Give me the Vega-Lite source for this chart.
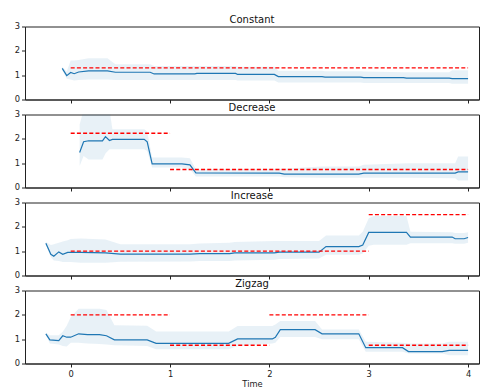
{
  "$schema": "https://vega.github.io/schema/vega-lite/v6.json",
  "padding": {"left": 13, "top": 14.5, "right": 0, "bottom": 0},
  "background": "white",
  "config": {
    "view": {"stroke": "#222", "strokeWidth": 1},
    "axis": {"grid": false, "domainColor": "#222", "tickColor": "#222", "labelColor": "#222", "titleColor": "#222", "tickSize": 3.5, "labelFont": "DejaVu Sans", "titleFont": "DejaVu Sans", "labelFontSize": 8.3, "titleFontSize": 8.3, "titleFontWeight": "normal", "labelPadding": 2, "titlePadding": 2, "labelFlush": false, "labelOverlap": false, "format": "d"},
    "title": {"font": "DejaVu Sans", "fontSize": 10, "fontWeight": "normal", "color": "#111", "offset": -3.5, "anchor": "middle"}
  },
  "datasets": {
    "series": [
      {"panel": "Constant", "t": -0.085, "v": 1.28, "lo": 1.2, "hi": 1.35},
      {"panel": "Constant", "t": -0.04, "v": 0.98, "lo": 0.85, "hi": 1.15},
      {"panel": "Constant", "t": 0.0, "v": 1.11, "lo": 0.82, "hi": 1.6},
      {"panel": "Constant", "t": 0.035, "v": 1.06, "lo": 0.78, "hi": 1.6},
      {"panel": "Constant", "t": 0.08, "v": 1.13, "lo": 0.8, "hi": 1.62},
      {"panel": "Constant", "t": 0.18, "v": 1.18, "lo": 0.82, "hi": 1.7},
      {"panel": "Constant", "t": 0.37, "v": 1.18, "lo": 0.82, "hi": 1.7},
      {"panel": "Constant", "t": 0.45, "v": 1.12, "lo": 0.8, "hi": 1.45},
      {"panel": "Constant", "t": 0.8, "v": 1.12, "lo": 0.8, "hi": 1.45},
      {"panel": "Constant", "t": 0.84, "v": 1.05, "lo": 0.8, "hi": 1.38},
      {"panel": "Constant", "t": 1.25, "v": 1.05, "lo": 0.8, "hi": 1.38},
      {"panel": "Constant", "t": 1.27, "v": 1.07, "lo": 0.8, "hi": 1.38},
      {"panel": "Constant", "t": 1.66, "v": 1.07, "lo": 0.8, "hi": 1.38},
      {"panel": "Constant", "t": 1.68, "v": 1.03, "lo": 0.78, "hi": 1.35},
      {"panel": "Constant", "t": 2.05, "v": 1.03, "lo": 0.78, "hi": 1.35},
      {"panel": "Constant", "t": 2.09, "v": 0.94, "lo": 0.7, "hi": 1.18},
      {"panel": "Constant", "t": 2.53, "v": 0.94, "lo": 0.7, "hi": 1.18},
      {"panel": "Constant", "t": 2.56, "v": 0.92, "lo": 0.7, "hi": 1.16},
      {"panel": "Constant", "t": 2.92, "v": 0.92, "lo": 0.7, "hi": 1.16},
      {"panel": "Constant", "t": 2.95, "v": 0.9, "lo": 0.68, "hi": 1.15},
      {"panel": "Constant", "t": 3.35, "v": 0.9, "lo": 0.68, "hi": 1.12},
      {"panel": "Constant", "t": 3.38, "v": 0.88, "lo": 0.68, "hi": 1.12},
      {"panel": "Constant", "t": 3.81, "v": 0.88, "lo": 0.68, "hi": 1.12},
      {"panel": "Constant", "t": 3.84, "v": 0.86, "lo": 0.65, "hi": 1.2},
      {"panel": "Constant", "t": 4.0, "v": 0.86, "lo": 0.65, "hi": 1.2},

      {"panel": "Decrease", "t": 0.09, "v": 1.44, "lo": 0.88, "hi": 2.59},
      {"panel": "Decrease", "t": 0.13, "v": 1.88, "lo": 1.29, "hi": 3.2},
      {"panel": "Decrease", "t": 0.18, "v": 1.92, "lo": 1.15, "hi": 3.2},
      {"panel": "Decrease", "t": 0.32, "v": 1.92, "lo": 1.15, "hi": 3.2},
      {"panel": "Decrease", "t": 0.35, "v": 2.09, "lo": 1.4, "hi": 3.2},
      {"panel": "Decrease", "t": 0.39, "v": 1.93, "lo": 1.57, "hi": 3.2},
      {"panel": "Decrease", "t": 0.42, "v": 1.98, "lo": 1.57, "hi": 2.39},
      {"panel": "Decrease", "t": 0.74, "v": 1.98, "lo": 1.57, "hi": 2.39},
      {"panel": "Decrease", "t": 0.77, "v": 1.88, "lo": 1.5, "hi": 2.3},
      {"panel": "Decrease", "t": 0.82, "v": 0.97, "lo": 0.82, "hi": 1.23},
      {"panel": "Decrease", "t": 1.12, "v": 0.97, "lo": 0.82, "hi": 1.23},
      {"panel": "Decrease", "t": 1.2, "v": 0.93, "lo": 0.75, "hi": 1.2},
      {"panel": "Decrease", "t": 1.26, "v": 0.6, "lo": 0.45, "hi": 0.75},
      {"panel": "Decrease", "t": 2.1, "v": 0.59, "lo": 0.45, "hi": 0.77},
      {"panel": "Decrease", "t": 2.15, "v": 0.55, "lo": 0.42, "hi": 0.77},
      {"panel": "Decrease", "t": 2.52, "v": 0.55, "lo": 0.4, "hi": 0.86},
      {"panel": "Decrease", "t": 2.9, "v": 0.55, "lo": 0.4, "hi": 0.86},
      {"panel": "Decrease", "t": 2.95, "v": 0.59, "lo": 0.4, "hi": 0.93},
      {"panel": "Decrease", "t": 3.4, "v": 0.59, "lo": 0.4, "hi": 1.0},
      {"panel": "Decrease", "t": 3.87, "v": 0.59, "lo": 0.38, "hi": 1.0},
      {"panel": "Decrease", "t": 3.9, "v": 0.64, "lo": 0.29, "hi": 1.27},
      {"panel": "Decrease", "t": 4.0, "v": 0.64, "lo": 0.29, "hi": 1.27},

      {"panel": "Increase", "t": -0.25, "v": 1.33, "lo": 1.28, "hi": 1.38},
      {"panel": "Increase", "t": -0.2, "v": 0.87, "lo": 0.75, "hi": 1.25},
      {"panel": "Increase", "t": -0.17, "v": 0.79, "lo": 0.62, "hi": 1.28},
      {"panel": "Increase", "t": -0.12, "v": 0.97, "lo": 0.6, "hi": 1.35},
      {"panel": "Increase", "t": -0.08, "v": 0.87, "lo": 0.55, "hi": 1.4},
      {"panel": "Increase", "t": -0.03, "v": 0.95, "lo": 0.55, "hi": 1.45},
      {"panel": "Increase", "t": 0.0, "v": 0.95, "lo": 0.55, "hi": 1.5},
      {"panel": "Increase", "t": 0.1, "v": 0.95, "lo": 0.52, "hi": 1.52},
      {"panel": "Increase", "t": 0.35, "v": 0.93, "lo": 0.52, "hi": 1.48},
      {"panel": "Increase", "t": 0.5, "v": 0.88, "lo": 0.56, "hi": 1.28},
      {"panel": "Increase", "t": 1.2, "v": 0.88, "lo": 0.58, "hi": 1.28},
      {"panel": "Increase", "t": 1.3, "v": 0.9, "lo": 0.6, "hi": 1.32},
      {"panel": "Increase", "t": 1.6, "v": 0.9, "lo": 0.6, "hi": 1.35},
      {"panel": "Increase", "t": 1.65, "v": 0.93, "lo": 0.62, "hi": 1.38},
      {"panel": "Increase", "t": 2.05, "v": 0.93, "lo": 0.65, "hi": 1.42},
      {"panel": "Increase", "t": 2.1, "v": 0.96, "lo": 0.68, "hi": 1.42},
      {"panel": "Increase", "t": 2.5, "v": 0.96, "lo": 0.7, "hi": 1.42},
      {"panel": "Increase", "t": 2.57, "v": 1.19, "lo": 0.85, "hi": 1.64},
      {"panel": "Increase", "t": 2.9, "v": 1.19, "lo": 0.85, "hi": 1.64},
      {"panel": "Increase", "t": 2.94, "v": 1.25, "lo": 0.9, "hi": 1.8},
      {"panel": "Increase", "t": 3.0, "v": 1.77, "lo": 1.22, "hi": 2.35},
      {"panel": "Increase", "t": 3.05, "v": 1.77, "lo": 1.26, "hi": 2.45},
      {"panel": "Increase", "t": 3.38, "v": 1.77, "lo": 1.26, "hi": 2.45},
      {"panel": "Increase", "t": 3.42, "v": 1.58, "lo": 1.33, "hi": 1.8},
      {"panel": "Increase", "t": 3.84, "v": 1.58, "lo": 1.33, "hi": 1.78},
      {"panel": "Increase", "t": 3.87, "v": 1.51, "lo": 1.3, "hi": 1.75},
      {"panel": "Increase", "t": 3.96, "v": 1.51, "lo": 1.3, "hi": 1.75},
      {"panel": "Increase", "t": 4.0, "v": 1.56, "lo": 1.35, "hi": 1.78},

      {"panel": "Zigzag", "t": -0.25, "v": 1.22, "lo": 1.18, "hi": 1.26},
      {"panel": "Zigzag", "t": -0.21, "v": 0.97, "lo": 0.82, "hi": 1.16},
      {"panel": "Zigzag", "t": -0.12, "v": 0.94, "lo": 0.78, "hi": 1.16},
      {"panel": "Zigzag", "t": -0.08, "v": 1.14, "lo": 0.72, "hi": 1.3},
      {"panel": "Zigzag", "t": -0.04, "v": 1.08, "lo": 0.7, "hi": 1.55},
      {"panel": "Zigzag", "t": 0.0, "v": 1.08, "lo": 0.85, "hi": 1.9},
      {"panel": "Zigzag", "t": 0.08, "v": 1.22, "lo": 0.85, "hi": 2.25},
      {"panel": "Zigzag", "t": 0.17, "v": 1.19, "lo": 0.82, "hi": 2.25},
      {"panel": "Zigzag", "t": 0.29, "v": 1.19, "lo": 0.8, "hi": 2.25},
      {"panel": "Zigzag", "t": 0.36, "v": 1.14, "lo": 0.78, "hi": 2.2},
      {"panel": "Zigzag", "t": 0.44, "v": 0.97, "lo": 0.75, "hi": 1.57},
      {"panel": "Zigzag", "t": 0.77, "v": 0.97, "lo": 0.72, "hi": 1.55},
      {"panel": "Zigzag", "t": 0.86, "v": 0.83, "lo": 0.59, "hi": 1.32},
      {"panel": "Zigzag", "t": 1.59, "v": 0.83, "lo": 0.59, "hi": 1.32},
      {"panel": "Zigzag", "t": 1.68, "v": 1.01, "lo": 0.72, "hi": 1.54},
      {"panel": "Zigzag", "t": 2.03, "v": 1.01, "lo": 0.82, "hi": 1.54},
      {"panel": "Zigzag", "t": 2.06, "v": 1.08, "lo": 0.85, "hi": 1.6},
      {"panel": "Zigzag", "t": 2.11, "v": 1.39, "lo": 1.09, "hi": 1.75},
      {"panel": "Zigzag", "t": 2.46, "v": 1.39, "lo": 1.09, "hi": 1.75},
      {"panel": "Zigzag", "t": 2.53, "v": 1.22, "lo": 1.0, "hi": 1.4},
      {"panel": "Zigzag", "t": 2.9, "v": 1.22, "lo": 1.0, "hi": 1.4},
      {"panel": "Zigzag", "t": 2.97, "v": 0.65, "lo": 0.48, "hi": 0.89},
      {"panel": "Zigzag", "t": 3.34, "v": 0.65, "lo": 0.48, "hi": 0.85},
      {"panel": "Zigzag", "t": 3.4, "v": 0.49, "lo": 0.41, "hi": 0.82},
      {"panel": "Zigzag", "t": 3.74, "v": 0.49, "lo": 0.41, "hi": 0.82},
      {"panel": "Zigzag", "t": 3.81, "v": 0.54, "lo": 0.34, "hi": 0.89},
      {"panel": "Zigzag", "t": 4.0, "v": 0.54, "lo": 0.34, "hi": 0.89}
    ],
    "truth": [
      {"panel": "Constant", "seg": "a", "t": 0, "v": 1.3},
      {"panel": "Constant", "seg": "a", "t": 4, "v": 1.3},
      {"panel": "Decrease", "seg": "a", "t": 0, "v": 2.23},
      {"panel": "Decrease", "seg": "a", "t": 1, "v": 2.23},
      {"panel": "Decrease", "seg": "b", "t": 1, "v": 0.74},
      {"panel": "Decrease", "seg": "b", "t": 4, "v": 0.74},
      {"panel": "Increase", "seg": "a", "t": 0, "v": 1.0},
      {"panel": "Increase", "seg": "a", "t": 3, "v": 1.0},
      {"panel": "Increase", "seg": "b", "t": 3, "v": 2.5},
      {"panel": "Increase", "seg": "b", "t": 4, "v": 2.5},
      {"panel": "Zigzag", "seg": "a", "t": 0, "v": 2.0},
      {"panel": "Zigzag", "seg": "a", "t": 1, "v": 2.0},
      {"panel": "Zigzag", "seg": "b", "t": 1, "v": 0.75},
      {"panel": "Zigzag", "seg": "b", "t": 2, "v": 0.75},
      {"panel": "Zigzag", "seg": "c", "t": 2, "v": 2.0},
      {"panel": "Zigzag", "seg": "c", "t": 3, "v": 2.0},
      {"panel": "Zigzag", "seg": "d", "t": 3, "v": 0.75},
      {"panel": "Zigzag", "seg": "d", "t": 4, "v": 0.75}
    ]
  },
  "spacing": 15,
  "bounds": "flush",
  "vconcat": [
    {
      "title": "Constant",
      "width": 454, "height": 73,
      "layer": [
        {"data": {"name": "series"}, "transform": [{"filter": "datum.panel === 'Constant'"}],
         "mark": {"type": "area", "color": "#1f77b4", "opacity": 0.1, "clip": true},
         "encoding": {
           "x": {"field": "t", "type": "quantitative", "scale": {"domain": [-0.46, 4.11], "nice": false, "zero": false}, "axis": {"values": [0, 1, 2, 3, 4], "labels": false, "title": null}},
           "y": {"field": "lo", "type": "quantitative", "scale": {"domain": [0, 3], "nice": false}, "axis": {"values": [0, 1, 2, 3], "title": null, "labelOverlap": false, "tickCount": 4}},
           "y2": {"field": "hi"}}},
        {"data": {"name": "series"}, "transform": [{"filter": "datum.panel === 'Constant'"}],
         "mark": {"type": "line", "color": "#1f77b4", "strokeWidth": 1.2, "clip": true},
         "encoding": {"x": {"field": "t", "type": "quantitative"}, "y": {"field": "v", "type": "quantitative"}}},
        {"data": {"name": "truth"}, "transform": [{"filter": "datum.panel === 'Constant'"}],
         "mark": {"type": "line", "color": "#ff0000", "strokeWidth": 1.3, "strokeDash": [4, 2.2], "clip": true},
         "encoding": {"x": {"field": "t", "type": "quantitative"}, "y": {"field": "v", "type": "quantitative"}, "detail": {"field": "seg"}}}
      ]
    },
    {
      "title": "Decrease",
      "width": 454, "height": 73,
      "layer": [
        {"data": {"name": "series"}, "transform": [{"filter": "datum.panel === 'Decrease'"}],
         "mark": {"type": "area", "color": "#1f77b4", "opacity": 0.1, "clip": true},
         "encoding": {
           "x": {"field": "t", "type": "quantitative", "scale": {"domain": [-0.46, 4.11], "nice": false, "zero": false}, "axis": {"values": [0, 1, 2, 3, 4], "labels": false, "title": null}},
           "y": {"field": "lo", "type": "quantitative", "scale": {"domain": [0, 3], "nice": false}, "axis": {"values": [0, 1, 2, 3], "title": null, "labelOverlap": false, "tickCount": 4}},
           "y2": {"field": "hi"}}},
        {"data": {"name": "series"}, "transform": [{"filter": "datum.panel === 'Decrease'"}],
         "mark": {"type": "line", "color": "#1f77b4", "strokeWidth": 1.2, "clip": true},
         "encoding": {"x": {"field": "t", "type": "quantitative"}, "y": {"field": "v", "type": "quantitative"}}},
        {"data": {"name": "truth"}, "transform": [{"filter": "datum.panel === 'Decrease'"}],
         "mark": {"type": "line", "color": "#ff0000", "strokeWidth": 1.3, "strokeDash": [4, 2.2], "clip": true},
         "encoding": {"x": {"field": "t", "type": "quantitative"}, "y": {"field": "v", "type": "quantitative"}, "detail": {"field": "seg"}}}
      ]
    },
    {
      "title": "Increase",
      "width": 454, "height": 73,
      "layer": [
        {"data": {"name": "series"}, "transform": [{"filter": "datum.panel === 'Increase'"}],
         "mark": {"type": "area", "color": "#1f77b4", "opacity": 0.1, "clip": true},
         "encoding": {
           "x": {"field": "t", "type": "quantitative", "scale": {"domain": [-0.46, 4.11], "nice": false, "zero": false}, "axis": {"values": [0, 1, 2, 3, 4], "labels": false, "title": null}},
           "y": {"field": "lo", "type": "quantitative", "scale": {"domain": [0, 3], "nice": false}, "axis": {"values": [0, 1, 2, 3], "title": null, "labelOverlap": false, "tickCount": 4}},
           "y2": {"field": "hi"}}},
        {"data": {"name": "series"}, "transform": [{"filter": "datum.panel === 'Increase'"}],
         "mark": {"type": "line", "color": "#1f77b4", "strokeWidth": 1.2, "clip": true},
         "encoding": {"x": {"field": "t", "type": "quantitative"}, "y": {"field": "v", "type": "quantitative"}}},
        {"data": {"name": "truth"}, "transform": [{"filter": "datum.panel === 'Increase'"}],
         "mark": {"type": "line", "color": "#ff0000", "strokeWidth": 1.3, "strokeDash": [4, 2.2], "clip": true},
         "encoding": {"x": {"field": "t", "type": "quantitative"}, "y": {"field": "v", "type": "quantitative"}, "detail": {"field": "seg"}}}
      ]
    },
    {
      "title": "Zigzag",
      "width": 454, "height": 73,
      "layer": [
        {"data": {"name": "series"}, "transform": [{"filter": "datum.panel === 'Zigzag'"}],
         "mark": {"type": "area", "color": "#1f77b4", "opacity": 0.1, "clip": true},
         "encoding": {
           "x": {"field": "t", "type": "quantitative", "scale": {"domain": [-0.46, 4.11], "nice": false, "zero": false}, "axis": {"values": [0, 1, 2, 3, 4], "title": "Time"}},
           "y": {"field": "lo", "type": "quantitative", "scale": {"domain": [0, 3], "nice": false}, "axis": {"values": [0, 1, 2, 3], "title": null, "labelOverlap": false, "tickCount": 4}},
           "y2": {"field": "hi"}}},
        {"data": {"name": "series"}, "transform": [{"filter": "datum.panel === 'Zigzag'"}],
         "mark": {"type": "line", "color": "#1f77b4", "strokeWidth": 1.2, "clip": true},
         "encoding": {"x": {"field": "t", "type": "quantitative"}, "y": {"field": "v", "type": "quantitative"}}},
        {"data": {"name": "truth"}, "transform": [{"filter": "datum.panel === 'Zigzag'"}],
         "mark": {"type": "line", "color": "#ff0000", "strokeWidth": 1.3, "strokeDash": [4, 2.2], "clip": true},
         "encoding": {"x": {"field": "t", "type": "quantitative"}, "y": {"field": "v", "type": "quantitative"}, "detail": {"field": "seg"}}}
      ]
    }
  ]
}
